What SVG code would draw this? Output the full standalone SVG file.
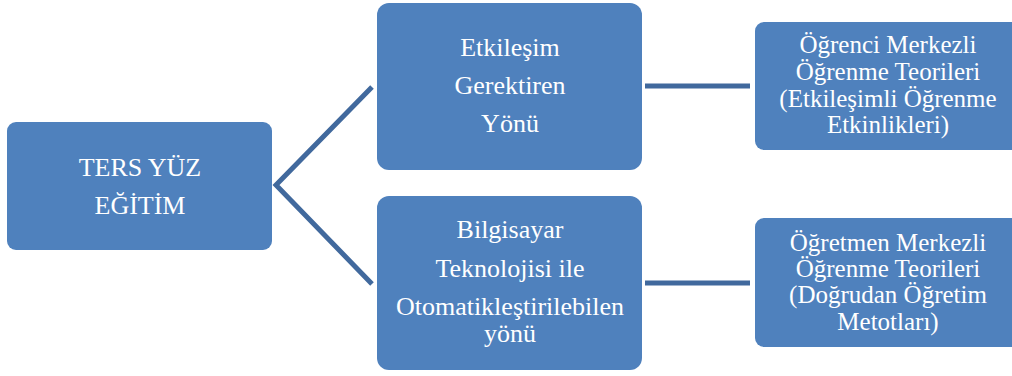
<svg xmlns="http://www.w3.org/2000/svg" width="1012" height="376" viewBox="0 0 1012 376">
<style>
.box{fill:#4f81bd;}
text{font-family:'Liberation Serif','Times New Roman','DejaVu Serif',serif;fill:#ffffff;text-anchor:middle;}
.big{font-size:26px;}
.sm{font-size:25px;}
.c{fill:none;stroke:#41699d;stroke-width:5;stroke-linejoin:miter;stroke-linecap:butt;}
</style>
<rect width="1012" height="376" fill="#ffffff"/>
<g id="connectors">
<path class="c" d="M372,87 L276,185 L372,284"/>
<line class="c" x1="645" y1="86" x2="750" y2="86"/>
<line class="c" x1="645" y1="283" x2="750" y2="283"/>
</g>
<g id="node-root">
<rect class="box" x="7" y="122" width="265" height="128" rx="9"/>
<text class="big" x="140" y="176" font-family="Liberation Serif">TERS YÜZ</text>
<text class="big" x="140" y="214" font-family="Liberation Serif">EĞİTİM</text>
</g>
<g id="node-etkilesim">
<rect class="box" x="377" y="3" width="265" height="167" rx="12"/>
<text class="big" x="510" y="56">Etkileşim</text>
<text class="big" x="510" y="94">Gerektiren</text>
<text class="big" x="510" y="132">Yönü</text>
</g>
<g id="node-bilgisayar">
<rect class="box" x="377" y="196" width="265" height="174" rx="12"/>
<text class="big" x="510" y="238">Bilgisayar</text>
<text class="big" x="510" y="277">Teknolojisi ile</text>
<text class="big" x="510" y="315">Otomatikleştirilebilen</text>
<text class="big" x="510" y="342">yönü</text>
</g>
<g id="node-ogrenci">
<rect class="box" x="755" y="22" width="266" height="128" rx="9"/>
<text class="sm" x="888" y="53">Öğrenci Merkezli</text>
<text class="sm" x="888" y="80">Öğrenme Teorileri</text>
<text class="sm" x="888" y="107">(Etkileşimli Öğrenme</text>
<text class="sm" x="888" y="133">Etkinlikleri)</text>
</g>
<g id="node-ogretmen">
<rect class="box" x="755" y="218" width="266" height="129" rx="9"/>
<text class="sm" x="888" y="251">Öğretmen Merkezli</text>
<text class="sm" x="888" y="277">Öğrenme Teorileri</text>
<text class="sm" x="888" y="303">(Doğrudan Öğretim</text>
<text class="sm" x="888" y="330">Metotları)</text>
</g>
</svg>
